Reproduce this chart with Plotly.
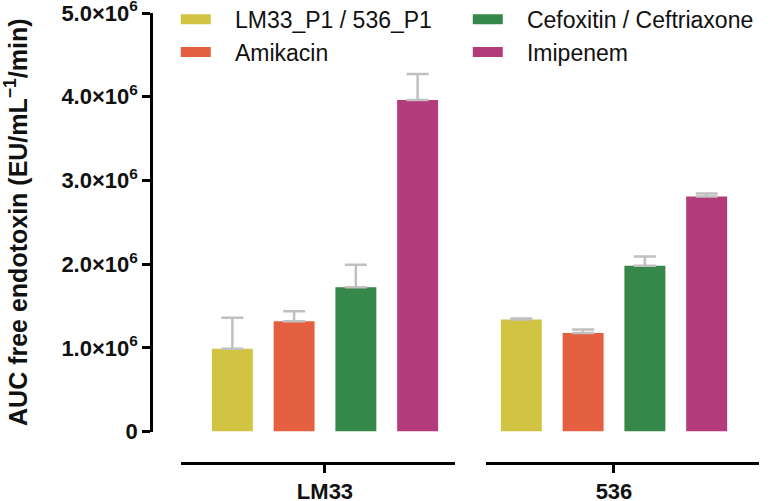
import plotly.graph_objects as go

groups = ["LM33", "536"]
series = ["LM33_P1 / 536_P1", "Amikacin", "Cefoxitin / Ceftriaxone", "Imipenem"]
colors = ["#D2C443", "#E56040", "#35874A", "#B33A7B"]
legend_rank = [1, 3, 2, 4]

p1_mean = [0.99e6, 1.337e6]
p1_err = [0.37e6, 0.013e6]
amikacin_mean = [1.316e6, 1.178e6]
amikacin_err = [0.12e6, 0.04e6]
cef_mean = [1.722e6, 1.981e6]
cef_err = [0.27e6, 0.11e6]
imi_mean = [3.962e6, 2.808e6]
imi_err = [0.31e6, 0.036e6]

means = [p1_mean, amikacin_mean, cef_mean, imi_mean]
errs = [p1_err, amikacin_err, cef_err, imi_err]

ytick_vals = [0, 1e6, 2e6, 3e6, 4e6, 5e6]
ytick_text = ["0", "1.0×10<sup>6</sup>", "2.0×10<sup>6</sup>", "3.0×10<sup>6</sup>",
              "4.0×10<sup>6</sup>", "5.0×10<sup>6</sup>"]

FONT = "Liberation Sans, Arial, sans-serif"
fig = go.Figure()

for s, name in enumerate(series):
    for g, grp in enumerate(groups):
        fig.add_trace(go.Bar(
            x=[grp], y=[means[s][g]],
            xaxis="x" if g == 0 else "x2", yaxis="y",
            marker=dict(color=colors[s], line=dict(width=0)),
            offsetgroup=str(s), showlegend=False, name=name,
            error_y=dict(type="data", symmetric=False, array=[errs[s][g]], arrayminus=[0],
                         color="#C0C0C0", thickness=2.5, width=11),
        ))
    # legend entry
    fig.add_trace(go.Scatter(
        x=[None], y=[None], mode="lines", xaxis="x", yaxis="y",
        line=dict(color=colors[s], width=15),
        name="\u00a0\u00a0\u00a0" + name, legendrank=legend_rank[s],
        showlegend=True,
    ))

axis_common = dict(showline=True, linecolor="black", linewidth=2.5, ticks="outside",
                   ticklen=8, tickwidth=2.5, tickcolor="black", showgrid=False, zeroline=False,
                   ticklabeloverflow="allow",
                   tickfont=dict(family=FONT, size=22, color="#111", weight="bold"))

fig.update_layout(
    width=776, height=501,
    margin=dict(l=151, r=16, t=13, b=38, autoexpand=False),
    plot_bgcolor="white", paper_bgcolor="white",
    barmode="group", bargap=0.0985, bargroupgap=0.337,
    xaxis=dict(domain=[0.04926, 0.49918], anchor="free", position=0, type="category",
               range=[-0.5255, 0.4745], **axis_common),
    xaxis2=dict(domain=[0.55008, 0.99836], anchor="free", position=0, type="category",
                range=[-0.467, 0.529], **axis_common),
    yaxis=dict(domain=[0.07, 1], anchor="free", position=0, range=[0, 5e6],
               tickvals=ytick_vals, ticktext=ytick_text, ticklabelstandoff=0,
               title=dict(text="AUC free endotoxin (EU/mL<sup>−1</sup>/min)", standoff=34,
                          font=dict(family=FONT, size=25, color="#111", weight="bold")),
               **axis_common),
    legend=dict(orientation="h", x=0.0407, y=1.034, xanchor="left", yanchor="top",
                entrywidth=247, entrywidthmode="pixels", itemwidth=30,
                font=dict(family=FONT, size=23, color="#111"), bgcolor="rgba(0,0,0,0)",
                tracegroupgap=0),
    showlegend=True,
)

fig.write_html("out.html", config={"displayModeBar": False},
               post_script="document.body.style.margin='0';")
